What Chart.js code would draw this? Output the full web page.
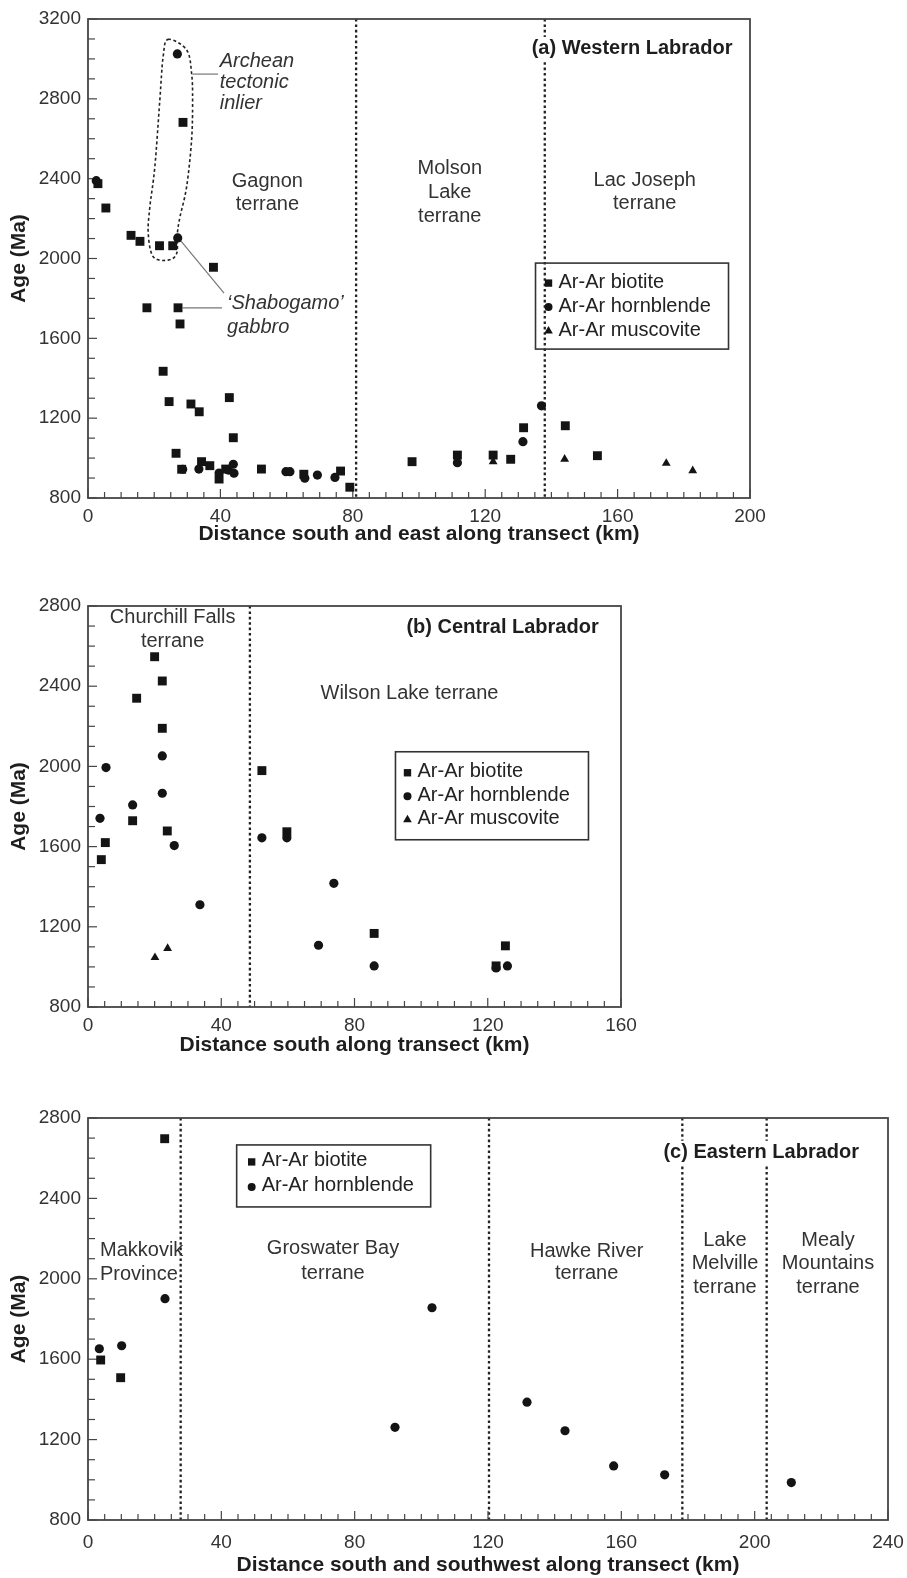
<!DOCTYPE html>
<html>
<head>
<meta charset="utf-8">
<script src="https://cdn.jsdelivr.net/npm/chart.js@4.4.1/dist/chart.umd.min.js"></script>
<style>
  body { margin: 0; background: #fff; width: 907px; height: 1578px; position: relative; overflow: hidden; }
  canvas { position: absolute; left: 0; }
</style>
</head>
<body>
<canvas id="chartA" width="907" height="551" style="top:0px"></canvas>
<canvas id="chartB" width="907" height="490" style="top:570px"></canvas>
<canvas id="chartC" width="907" height="498" style="top:1080px"></canvas>
<script>
// ---- (a) Western Labrador : [distance km, age Ma]
const aBiotite = [
  [3.0, 2375], [5.4, 2253], [13.0, 2116], [15.7, 2086], [21.6, 2064], [25.6, 2064],
  [28.7, 2682], [37.9, 1956], [17.8, 1753], [27.2, 1753], [27.8, 1672], [22.7, 1435],
  [24.5, 1283], [31.1, 1271], [33.6, 1232], [42.7, 1303], [43.9, 1102], [26.6, 1024],
  [28.3, 944], [34.3, 982], [36.8, 962], [39.6, 895], [41.6, 945], [52.4, 945],
  [65.2, 919], [76.3, 935], [79.1, 854], [97.9, 982], [111.6, 1015], [122.4, 1015],
  [127.7, 994], [131.6, 1152], [144.2, 1162], [153.9, 1012]
];
const aHornblende = [
  [2.5, 2390], [27.0, 3025], [27.1, 2103], [28.6, 944], [33.5, 945], [39.6, 925],
  [42.4, 940], [43.9, 969], [44.1, 924], [59.8, 932], [61.0, 932], [65.5, 899],
  [69.3, 915], [74.6, 903], [111.6, 977], [131.4, 1082], [137.0, 1262]
];
const aMuscovite = [[122.4, 982], [144.0, 995], [174.7, 974], [182.7, 937]];
const aBoundaries = [81, 138];
const aXTicks = [0, 40, 80, 120, 160, 200];
const aYTicks = [800, 1200, 1600, 2000, 2400, 2800, 3200];

// ---- (b) Central Labrador
const bBiotite = [
  [20.0, 2547], [22.3, 2426], [14.6, 2340], [22.3, 2190], [13.4, 1729], [23.8, 1678],
  [5.2, 1620], [4.0, 1535], [52.2, 1979], [59.7, 1674], [85.9, 1167], [122.5, 1005],
  [125.3, 1105]
];
const bHornblende = [
  [22.3, 2052], [5.4, 1994], [22.3, 1866], [13.4, 1808], [3.6, 1741], [25.9, 1605],
  [33.6, 1310], [52.2, 1644], [59.7, 1644], [69.2, 1108], [73.8, 1417], [85.9, 1005],
  [122.5, 995], [125.9, 1005]
];
const bMuscovite = [[20.1, 1047], [23.9, 1092]];
const bBoundaries = [48.6];
const bXTicks = [0, 40, 80, 120, 160];
const bYTicks = [800, 1200, 1600, 2000, 2400, 2800];

// ---- (c) Eastern Labrador
const cBiotite = [[23.0, 2697], [3.8, 1596], [9.8, 1508]];
const cHornblende = [
  [23.1, 1901], [3.4, 1652], [10.1, 1667], [92.1, 1261], [103.2, 1856],
  [131.7, 1386], [143.1, 1244], [157.7, 1069], [173.0, 1025], [211.0, 986]
];
const cBoundaries = [27.8, 120.3, 178.3, 203.6];
const cXTicks = [0, 40, 80, 120, 160, 200, 240];
const cYTicks = [800, 1200, 1600, 2000, 2400, 2800];

// dashed outline round the Archean inlier, in km / Ma
const inlierOutline = [
  [24.2, 3098], [29.8, 3045], [31.3, 2928], [31.6, 2794], [31.3, 2594], [29.8, 2360],
  [27.8, 2209], [27.0, 2126], [26.8, 2026], [24.2, 1992], [19.7, 2009], [18.2, 2126],
  [18.7, 2260], [20.2, 2460], [21.7, 2794], [22.7, 3011]
];

const FONT = "'Liberation Sans', Arial, Helvetica, sans-serif";
Chart.defaults.font.family = FONT;
Chart.defaults.color = '#333';

const INK = '#141414';
function series(label, pts, style, r) {
  return {
    label, pointStyle: style, pointRadius: r, pointHoverRadius: r,
    data: pts.map(p => ({ x: p[0], y: p[1] })),
    backgroundColor: INK, borderColor: INK, borderWidth: 0, clip: false
  };
}
const SQ = 6.3, CI = 4.6, TR = 5.1;

function line(ctx, x1, y1, x2, y2) {
  ctx.beginPath(); ctx.moveTo(x1, y1); ctx.lineTo(x2, y2); ctx.stroke();
}

function smoothClosed(ctx, pts) {
  const n = pts.length;
  ctx.beginPath();
  ctx.moveTo(pts[0][0], pts[0][1]);
  for (let i = 0; i < n; i++) {
    const p0 = pts[(i - 1 + n) % n], p1 = pts[i], p2 = pts[(i + 1) % n], p3 = pts[(i + 2) % n];
    ctx.bezierCurveTo(p1[0] + (p2[0] - p0[0]) / 6, p1[1] + (p2[1] - p0[1]) / 6,
                      p2[0] - (p3[0] - p1[0]) / 6, p2[1] - (p3[1] - p1[1]) / 6, p2[0], p2[1]);
  }
  ctx.closePath();
}

// frame, inward ticks, terrane boundaries, labels, legend
function decor(o) {
  return {
    id: 'decor',
    beforeDatasetsDraw(chart) {
      const { ctx, chartArea: a, scales: { x, y } } = chart;
      ctx.save();
      ctx.strokeStyle = '#222';
      ctx.lineWidth = 2.3;
      ctx.setLineDash([2.6, 2.8]);
      o.bounds.forEach(v => {
        const px = x.getPixelForValue(v);
        line(ctx, px, a.top, px, a.bottom);
      });
      ctx.setLineDash([]);

      ctx.strokeStyle = '#454545';
      ctx.lineWidth = 1.2;
      for (let v = x.min; v <= x.max; v += 5) {
        const px = x.getPixelForValue(v);
        line(ctx, px, a.bottom, px, a.bottom - (v % 40 === 0 ? 9 : 6));
      }
      for (let v = y.min; v <= y.max; v += 100) {
        const py = y.getPixelForValue(v);
        line(ctx, a.left, py, a.left + (v % 400 === 0 ? 9 : 7), py);
      }
      ctx.lineWidth = 1.8;
      ctx.strokeRect(a.left, a.top, a.right - a.left, a.bottom - a.top);

      if (o.outline) {
        ctx.strokeStyle = '#222';
        ctx.lineWidth = 1.6;
        ctx.setLineDash([3, 2.5]);
        smoothClosed(ctx, o.outline.map(p => [x.getPixelForValue(p[0]), y.getPixelForValue(p[1])]));
        ctx.stroke();
        ctx.setLineDash([]);
      }
      (o.leaders || []).forEach(l => {
        ctx.strokeStyle = '#777';
        ctx.lineWidth = 1.2;
        line(ctx, x.getPixelForValue(l[0]), y.getPixelForValue(l[1]),
             x.getPixelForValue(l[2]), y.getPixelForValue(l[3]));
      });

      ctx.textBaseline = 'middle';
      o.labels.forEach(l => {
        ctx.font = (l.style || '') + ' ' + (l.size || 20) + 'px ' + FONT;
        ctx.textAlign = l.align || 'center';
        const px = x.getPixelForValue(l.x), py = y.getPixelForValue(l.y);
        l.lines.forEach((t, i) => {
          const ty = py + i * (l.lh || 23);
          if (l.bg) {
            const w = ctx.measureText(t).width;
            const x0 = l.align === 'right' ? px - w : l.align === 'left' ? px : px - w / 2;
            ctx.fillStyle = '#fff';
            ctx.fillRect(x0 - 3, ty - 12, w + 6, 24);
          }
          ctx.fillStyle = l.color || '#333';
          ctx.fillText(t, px, ty);
        });
      });

      const g = o.legend;
      const lx = x.getPixelForValue(g.x), ly = y.getPixelForValue(g.y);
      ctx.strokeStyle = '#333';
      ctx.lineWidth = 1.6;
      ctx.strokeRect(lx, ly, g.w, g.h);
      ctx.font = '20px ' + FONT;
      ctx.textAlign = 'left';
      g.items.forEach((di, i) => {
        const ds = chart.data.datasets[di];
        const ry = ly + g.first + i * g.gap;
        ctx.fillStyle = INK;
        Chart.helpers.drawPoint(ctx, {
          pointStyle: ds.pointStyle, radius: g.r[ds.pointStyle], borderWidth: 0
        }, lx + g.mark, ry + 1);
        ctx.fillStyle = '#222';
        ctx.fillText(ds.label, lx + g.text, ry);
      });
      ctx.restore();
    }
  };
}

function panel(id, o) {
  const chart = new Chart(document.getElementById(id), {
    type: 'scatter',
    data: { datasets: o.sets },
    options: {
      responsive: false, animation: false, devicePixelRatio: 1,
      layout: { padding: Object.assign({}, o.pad) },
      plugins: { legend: { display: false }, tooltip: { enabled: false } },
      scales: {
        x: {
          type: 'linear', min: o.xTicks[0], max: o.xTicks[o.xTicks.length - 1],
          afterBuildTicks: s => { s.ticks = o.xTicks.map(v => ({ value: v })); },
          afterFit: s => { s.height = o.xH; s.paddingLeft = 0; s.paddingRight = 0; },
          grid: { display: false, drawTicks: false }, border: { display: false },
          ticks: { padding: o.xPad, autoSkip: false, maxRotation: 0, color: '#333',
                   font: { size: 19 }, callback: v => String(v) },
          title: { display: true, text: o.xTitle, color: '#1e1e1e',
                   font: { size: 21, weight: 'bold' }, padding: { top: 0, bottom: o.titlePad } }
        },
        y: {
          type: 'linear', min: o.yTicks[0], max: o.yTicks[o.yTicks.length - 1],
          afterBuildTicks: s => { s.ticks = o.yTicks.map(v => ({ value: v })); },
          afterFit: s => { s.width = 88; s.paddingTop = 0; s.paddingBottom = 0; },
          grid: { display: false, drawTicks: false }, border: { display: false },
          ticks: { padding: 7, autoSkip: false, color: '#333', font: { size: 19 },
                   callback: v => String(v) },
          title: { display: true, text: 'Age (Ma)', color: '#1e1e1e',
                   font: { size: 21, weight: 'bold' }, padding: { top: 7, bottom: 0 } }
        }
      }
    },
    plugins: [decor(o)]
  });
  // keep the plot frame where the reference has it
  const pad = Object.assign({}, o.pad);
  pad.right += chart.chartArea.right - o.frameRight;
  pad.top -= chart.chartArea.top - o.pad.top;
  chart.options.layout.padding = pad;
  chart.update();
  return chart;
}

const legendR = { rect: 5.2, circle: 4.0, triangle: 5.0 };

panel('chartA', {
  sets: [
    series('Ar-Ar biotite', aBiotite, 'rect', SQ),
    series('Ar-Ar hornblende', aHornblende, 'circle', CI),
    series('Ar-Ar muscovite', aMuscovite, 'triangle', TR)
  ],
  xTicks: aXTicks, yTicks: aYTicks, bounds: aBoundaries,
  xTitle: 'Distance south and east along transect (km)',
  xH: 53, xPad: 7, titlePad: 4, frameRight: 750,
  pad: { top: 19, right: 157, bottom: 0, left: 0 },
  outline: inlierOutline,
  leaders: [[31.6, 2924, 39.3, 2924], [28.6, 1753, 40.5, 1753], [27.8, 2093, 41.1, 1827]],
  labels: [
    { lines: ['(a) Western Labrador'], x: 194.7, y: 3050, align: 'right', style: 'bold', color: '#1e1e1e', bg: true },
    { lines: ['Archean', 'tectonic', 'inlier'], x: 39.8, y: 2985, align: 'left', style: 'italic', lh: 21 },
    { lines: ['Gagnon', 'terrane'], x: 54.2, y: 2388 },
    { lines: ['Molson', 'Lake', 'terrane'], x: 109.3, y: 2453, lh: 24 },
    { lines: ['Lac Joseph', 'terrane'], x: 168.2, y: 2393 },
    { lines: ['\u2018Shabogamo\u2019', 'gabbro'], x: 42, y: 1777, align: 'left', style: 'italic', lh: 24 }
  ],
  legend: { x: 135.2, y: 1977, w: 193, h: 86, first: 19, gap: 24, mark: 13, text: 23, items: [0, 1, 2], r: legendR }
});

panel('chartB', {
  sets: [
    series('Ar-Ar biotite', bBiotite, 'rect', SQ),
    series('Ar-Ar hornblende', bHornblende, 'circle', CI),
    series('Ar-Ar muscovite', bMuscovite, 'triangle', TR)
  ],
  xTicks: bXTicks, yTicks: bYTicks, bounds: bBoundaries,
  xTitle: 'Distance south along transect (km)',
  xH: 53, xPad: 7, titlePad: 2, frameRight: 621,
  pad: { top: 36, right: 286, bottom: 0, left: 0 },
  labels: [
    { lines: ['(b) Central Labrador'], x: 153.3, y: 2692, align: 'right', style: 'bold', color: '#1e1e1e', bg: true },
    { lines: ['Churchill Falls', 'terrane'], x: 25.4, y: 2745, lh: 24.7 },
    { lines: ['Wilson Lake terrane'], x: 69.8, y: 2365, align: 'left' }
  ],
  legend: { x: 92.3, y: 2073, w: 193, h: 88, first: 20, gap: 23.5, mark: 12, text: 22, items: [0, 1, 2], r: legendR }
});

panel('chartC', {
  sets: [
    series('Ar-Ar biotite', cBiotite, 'rect', SQ),
    series('Ar-Ar hornblende', cHornblende, 'circle', CI)
  ],
  xTicks: cXTicks, yTicks: cYTicks, bounds: cBoundaries,
  xTitle: 'Distance south and southwest along transect (km)',
  xH: 58, xPad: 11, titlePad: 0, frameRight: 888,
  pad: { top: 38, right: 19, bottom: 0, left: 0 },
  labels: [
    { lines: ['(c) Eastern Labrador'], x: 231.3, y: 2627, align: 'right', style: 'bold', color: '#1e1e1e', bg: true },
    { lines: ['Makkovik', 'Province'], x: 3.6, y: 2143, align: 'left', lh: 24 },
    { lines: ['Groswater Bay', 'terrane'], x: 73.5, y: 2153, lh: 25 },
    { lines: ['Hawke River', 'terrane'], x: 149.6, y: 2138, lh: 22 },
    { lines: ['Lake', 'Melville', 'terrane'], x: 191.1, y: 2193, lh: 23.5 },
    { lines: ['Mealy', 'Mountains', 'terrane'], x: 222, y: 2193, lh: 23.5 }
  ],
  legend: { x: 44.6, y: 2666, w: 194, h: 62, first: 16, gap: 25, mark: 15, text: 25, items: [0, 1], r: legendR }
});
</script>
</body>
</html>
